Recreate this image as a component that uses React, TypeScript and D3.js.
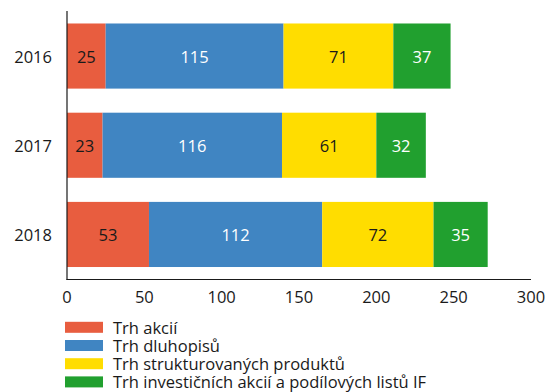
import React from "react";
import * as d3 from "d3";

const years = ["2016", "2017", "2018"];
const seriesNames = [
  "Trh akcií",
  "Trh dluhopisů",
  "Trh strukturovaných produktů",
  "Trh investičních akcií a podílových listů IF",
];
const akcie = [25, 23, 53];
const dluhopisy = [115, 116, 112];
const strukturovane = [71, 61, 72];
const investicni = [37, 32, 35];
const xTicks = [0, 50, 100, 150, 200, 250, 300];

const colors = ["#E85D3F", "#4085C2", "#FFDD00", "#21A02F"];
const labelColors = ["#1a1a1a", "#ffffff", "#1a1a1a", "#ffffff"];

const W = 547;
const H = 392;
const FONT = "'Open Sans', 'Noto Sans', sans-serif";
const FS = 16.5;

export default function App() {
  const seriesVals = [akcie, dluhopisy, strukturovane, investicni];
  const x = d3.scaleLinear().domain([0, 300]).range([67, 531]);
  const y = d3.scaleBand().domain(years).range([11, 279.5]).paddingInner(0.27).paddingOuter(0.14);

  const table = years.map((yr, i) => {
    const row: any = { year: yr };
    seriesNames.forEach((s, k) => (row[s] = seriesVals[k][i]));
    return row;
  });
  const stacked = d3.stack<any>().keys(seriesNames)(table);

  return (
    <svg width={W} height={H} style={{ position: "absolute", left: 0, top: 0 }} fontFamily={FONT}>
      <rect width={W} height={H} fill="#fff" />
      {stacked.map((layer, k) =>
        layer.map((d, i) => {
          const x0 = x(d[0]);
          const x1 = x(d[1]);
          const yy = y(years[i])!;
          return (
            <g key={`${k}-${i}`}>
              <rect x={x0} y={yy} width={x1 - x0} height={y.bandwidth()} fill={colors[k]} />
              <text
                x={(x0 + x1) / 2}
                y={yy + y.bandwidth() / 2}
                textAnchor="middle"
                dominantBaseline="central"
                fontSize={FS}
                fill={labelColors[k]}
              >
                {seriesVals[k][i]}
              </text>
            </g>
          );
        })
      )}
      {years.map((yr) => (
        <text
          key={yr}
          x={52}
          y={y(yr)! + y.bandwidth() / 2}
          textAnchor="end"
          dominantBaseline="central"
          fontSize={FS}
          fill="#1a1a1a"
        >
          {yr}
        </text>
      ))}
      <line x1={67} x2={67} y1={11} y2={280} stroke="#1a1a1a" strokeWidth={1.2} />
      <line x1={66.5} x2={x(300)} y1={279.5} y2={279.5} stroke="#1a1a1a" strokeWidth={1.2} />
      {xTicks.map((t) => (
        <text key={t} x={x(t)} y={296} textAnchor="middle" dominantBaseline="central" fontSize={FS} fill="#1a1a1a">
          {t}
        </text>
      ))}
      {seriesNames.map((s, k) => (
        <g key={s} transform={`translate(0, ${327.3 + k * 18.2})`}>
          <rect x={65} y={-5.5} width={38} height={11} fill={colors[k]} />
          <text x={113} y={0} dominantBaseline="central" fontSize={FS} fill="#1a1a1a">
            {s}
          </text>
        </g>
      ))}
    </svg>
  );
}
